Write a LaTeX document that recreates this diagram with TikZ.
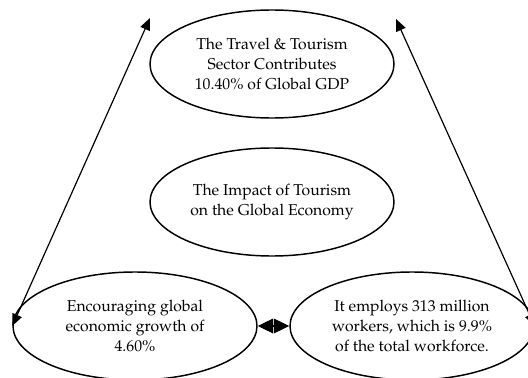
\documentclass[tikz,border=0pt]{standalone}
\usepackage[T1]{fontenc}
\usepackage{mathpazo}
\usepackage{tikz}
\usetikzlibrary{shapes.geometric,arrows.meta,positioning}

\begin{document}
\begin{tikzpicture}[x=0.75pt, y=-0.75pt,
    bubble/.style={ellipse, draw, line width=1.1pt, minimum width=183pt, minimum height=81pt, inner sep=0pt, align=center, font=\fontsize{11.8}{15}\selectfont},
    link/.style={line width=0.9pt, {Triangle[length=9pt,width=7.5pt]}-{Triangle[length=9pt,width=7.5pt]}}]
    \useasboundingbox (0,0) rectangle (528,378);
    \node (gdp) [bubble] at (272,64) {The Travel \& Tourism\\Sector Contributes\\10.40\% of Global GDP};
    \node (impact) [bubble] at (272,202) {The Impact of Tourism\\on the Global Economy};
    \node (growth) [bubble] at (135,326) {Encouraging global\\economic growth of\\4.60\%};
    \node (jobs) [bubble] at (412,326) {It employs 313 million\\workers, which is 9.9\%\\of the total workforce.};

    \coordinate (topL) at (150,18);
    \coordinate (topR) at (396,19);
    \draw [link] (topL) -- (growth.west);
    \draw [link] (topR) -- (jobs.east);
    % short two-headed link between the lower ovals
    \draw [{Triangle[length=11.5pt,width=11pt]}-{Triangle[length=11.5pt,width=11pt]}, line width=0.8pt] (growth.east) -- (jobs.west);
\end{tikzpicture}
\end{document}
